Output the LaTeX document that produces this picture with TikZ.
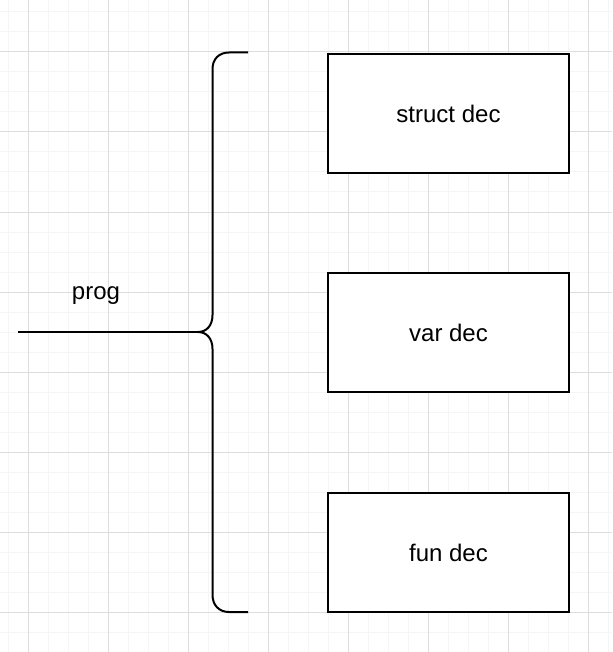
\documentclass[tikz,border=0pt]{standalone}
\usepackage{fontspec}
\setmainfont{Liberation Sans}
\definecolor{minorgrid}{HTML}{F5F5F5}
\definecolor{majorgrid}{HTML}{DDDDDD}
\tikzset{
  decbox/.style={draw=black, line width=2pt, minimum width=241pt, minimum height=119pt, inner sep=0pt, font=\fontsize{24}{28}\selectfont},
  lbl/.style={font=\fontsize{24}{28}\selectfont, inner sep=0pt},
  brace/.style={draw=black, line width=2pt, line join=round},
}
\begin{document}
\begin{tikzpicture}[x=1pt,y=-1pt]
\useasboundingbox (0,0) rectangle (612,652);
\fill[white] (0,0) rectangle (612,652);
% minor grid
\foreach \x in {8,28,...,608} \draw[minorgrid, line width=1pt] (\x,0) -- (\x,652);
\foreach \y in {12,32,...,652} \draw[minorgrid, line width=1pt] (0,\y) -- (612,\y);
% major grid
\foreach \x in {28,108,...,608} \draw[majorgrid, line width=1pt] (\x,0) -- (\x,652);
\foreach \y in {52,132,...,652} \draw[majorgrid, line width=1pt] (0,\y) -- (612,\y);

\node[decbox, fill=white] (s) at (448.5,113.5) {struct dec};
\node[decbox, fill=white] (v) at (448.5,332.5) {var dec};
\node[decbox, fill=white] (f) at (448.5,552.5) {fun dec};
\node[lbl] (p) at (96,296) {prog};

\coordinate (bt) at (248,52.5);
\coordinate (bb) at (248,612);
\coordinate (cusp) at (198,332);
\coordinate (start) at (18,332);

\draw[brace] (bt) -- (229,52.5) .. controls (219,52.5) and (212.5,59) .. (212.5,69)
  -- (212.5,315) .. controls (212.5,325) and (207,332) .. (cusp)
  .. controls (207,332) and (212.5,339) .. (212.5,349)
  -- (212.5,595) .. controls (212.5,605) and (219,612) .. (229,612) -- (bb);
\draw[brace] (start) -- (cusp);
\end{tikzpicture}
\end{document}
